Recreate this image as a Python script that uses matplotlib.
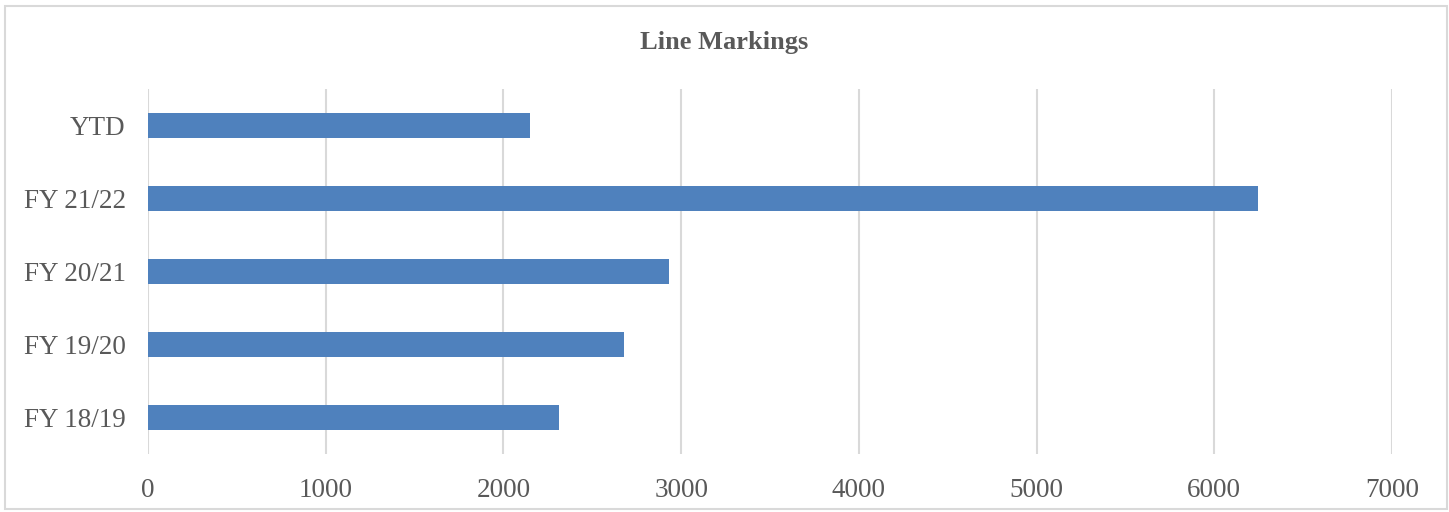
import matplotlib
matplotlib.use('Agg')
import matplotlib.pyplot as plt
from matplotlib.patches import Rectangle

# data
periods = ['FY 18/19', 'FY 19/20', 'FY 20/21', 'FY 21/22', 'YTD']
markings = [2312, 2680, 2931, 6245, 2147]
x_ticks = [0, 1000, 2000, 3000, 4000, 5000, 6000, 7000]

bar_color = '#4F81BD'
grid_color = '#D9D9D9'
text_color = '#595959'

plt.rcParams['font.family'] = ['Liberation Serif', 'DejaVu Serif']

fig = plt.figure(figsize=(14.49, 5.12), dpi=100)
ax = fig.add_axes([148 / 1449, 58 / 512, 1244 / 1449, 365 / 512])

ax.barh(range(len(periods)), markings, height=0.34, color=bar_color, zorder=3)

ax.set_xlim(0, 7000)
ax.set_ylim(-0.5, len(periods) - 0.5)
ax.set_xticks(x_ticks)
ax.set_xticklabels([str(t) for t in x_ticks])
ax.set_yticks(range(len(periods)))
ax.set_yticklabels(periods)

ax.grid(axis='x', color=grid_color, linewidth=1.5, zorder=0)
ax.set_axisbelow(True)
for s in ax.spines.values():
    s.set_visible(False)
ax.tick_params(axis='both', length=0, labelsize=19.5, colors=text_color)
ax.tick_params(axis='x', pad=17)
ax.tick_params(axis='y', pad=16)

fig.text(0.5, 1 - 42 / 512, 'Line Markings', ha='center', va='center',
         fontsize=19, fontweight='bold', color=text_color)

# light frame round the chart area
fig.patches.append(Rectangle((5 / 1449, 3 / 512), 1442 / 1449, 503 / 512,
                             transform=fig.transFigure, fill=False,
                             edgecolor=grid_color, linewidth=1.5))

fig.savefig('out.png', dpi=100, facecolor='white')
